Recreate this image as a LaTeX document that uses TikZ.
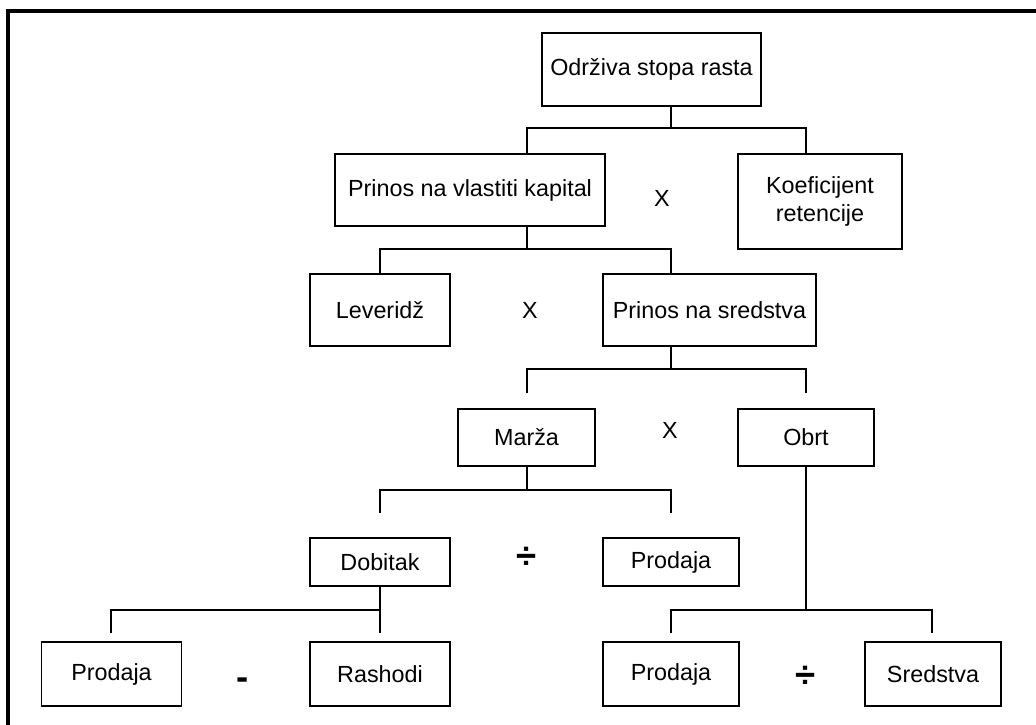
\documentclass[tikz,border=0pt]{standalone}
\usepackage{fontspec}
\setmainfont{Liberation Sans}
\usetikzlibrary{positioning,calc}
\tikzset{font=\fontsize{16.6}{20.5}\selectfont}

\begin{document}
\begin{tikzpicture}[x=0.025cm, y=-0.025cm]
	\useasboundingbox (0, 0) rectangle (1036, 724);
	\draw[line width=2.2pt] (8, 740) -- (8, 11) -- (1050, 11);
	\begin{scope}
		\tikzstyle{every node}=[align=center, inner sep=0pt]
		\tikzstyle{box}=[draw, line width=1.6pt]
		\tikzstyle{bar}=[line width=2.1pt]
		\tikzstyle{sign}=[font=\fontsize{26}{26}\selectfont\bfseries]
		\node[box, minimum width=5.48cm, minimum height=1.83cm] (rast) at (651.5, 69.5) {Održiva stopa rasta};
		\node[box, minimum width=6.75cm, minimum height=1.8cm] (roe) at (470, 190) {Prinos na vlastiti kapital};
		\node[box, minimum width=4.1cm, minimum height=2.38cm] (ret) at (820, 201.5) {Koeficijent\\retencije};
		\node[box, minimum width=3.5cm, minimum height=1.8cm] (lev) at (380, 310) {Leveridž};
		\node[box, minimum width=5.33cm, minimum height=1.8cm] (roa) at (709.5, 310) {Prinos na sredstva};
		\node[box, minimum width=3.43cm, minimum height=1.43cm] (marza) at (526.5, 437.5) {Marža};
		\node[box, minimum width=3.4cm, minimum height=1.43cm] (obrt) at (806, 437.5) {Obrt};
		\node[box, minimum width=3.5cm, minimum height=1.2cm] (dob) at (380, 562) {Dobitak};
		\node[box, minimum width=3.4cm, minimum height=1.2cm] (prod1) at (671, 562) {Prodaja};
		\node[draw, line width=0.8pt, minimum width=3.48cm, minimum height=1.6cm] (prod2) at (111.5, 674) {Prodaja};
		\node[box, minimum width=3.5cm, minimum height=1.6cm] (rash) at (380, 674) {Rashodi};
		\node[box, minimum width=3.4cm, minimum height=1.6cm] (prod3) at (671, 674) {Prodaja};
		\node[box, minimum width=3.4cm, minimum height=1.6cm] (sred) at (933, 674) {Sredstva};

		\node (op1) at (662, 198) {X};
		\node (op2) at (530, 310) {X};
		\node (op3) at (670, 430) {X};
		\node[sign] (op4) at (527, 558) {÷};
		\node[sign] (op5) at (806, 677) {÷};
		\node[sign] (op6) at (243, 684) {-};

		\coordinate (a1) at (527, 128);
		\coordinate (a2) at (806, 128);
		\draw[bar] (rast.south -| 671, 0) -- (671, 128);
		\draw[bar] (roe.north -| a1) -- (a1) -- (a2) -- (ret.north -| a2);

		\coordinate (b1) at (380, 249);
		\coordinate (b2) at (671, 249);
		\draw[bar] (roe.south -| a1) -- (527, 249);
		\draw[bar] (lev.north) -- (b1) -- (b2) -- (roa.north -| b2);

		\coordinate (c1) at (527, 393);
		\coordinate (c2) at (806, 393);
		\draw[bar] (roa.south -| b2) -- (671, 369);
		\draw[bar] (c1) -- (527, 369) -- (806, 369) -- (c2);

		\coordinate (d1) at (380, 513);
		\coordinate (d2) at (671, 513);
		\draw[bar] (marza.south -| c1) -- (527, 490);
		\draw[bar] (d1) -- (380, 490) -- (671, 490) -- (d2);

		\coordinate (e1) at (671, 633);
		\coordinate (e2) at (932, 633);
		\draw[line width=1pt] (obrt.south) -- (806, 610);
		\draw[bar] (e1) -- (671, 610) -- (932, 610) -- (e2);

		\coordinate (f1) at (111, 633);
		\coordinate (f2) at (380, 633);
		\draw[bar] (dob.south) -- (f2);
		\draw[bar] (f1) -- (111, 610) -- (380, 610);
	\end{scope}
\end{tikzpicture}
\end{document}
